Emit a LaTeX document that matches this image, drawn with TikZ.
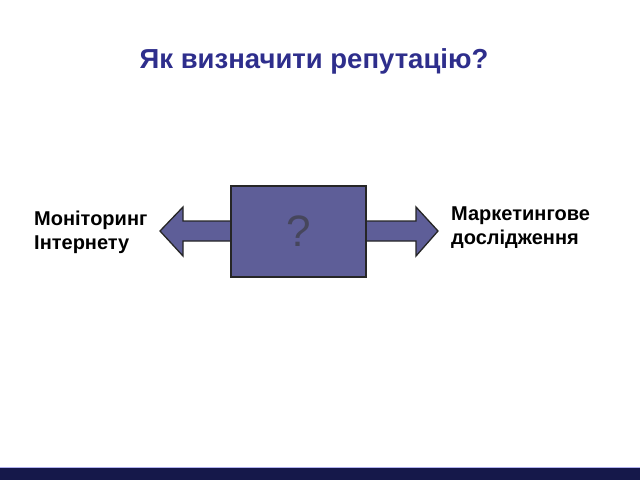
\documentclass[tikz,border=0pt]{standalone}
\usepackage{fontspec}
\setmainfont{Liberation Sans}
\definecolor{titleblue}{HTML}{2E2E8C}
\definecolor{boxfill}{HTML}{5E5E98}
\definecolor{barnavy}{HTML}{15184A}
\definecolor{qgray}{HTML}{46465C}
\begin{document}
\begin{tikzpicture}[x=1pt,y=-1pt,
  lbl/.style={font=\bfseries\fontsize{20}{24}\selectfont, align=left, anchor=west, inner sep=0pt, text=black},
  shapefill/.style={fill=boxfill, draw=black!85, line width=1.3pt, line join=miter}]
\useasboundingbox (0,0) rectangle (640,480);
\fill[white] (0,0) rectangle (640,480);
% bottom bar
\fill[barnavy] (0,468) rectangle (640,480);
\draw[color=black!20!blue!30, line width=0.6pt] (0,467.5) -- (640,467.5);
% title
\node[font=\bfseries\fontsize{27.5}{30}\selectfont, text=titleblue, anchor=base, inner sep=0pt] (title) at (314,68) {Як визначити репутацію?};
% double arrow
\coordinate (ltip) at (160,231);
\coordinate (rtip) at (438,231);
\draw[shapefill] (ltip) -- (183,207) -- (183,221) -- (416,221) -- (416,207) -- (rtip) -- (416,256) -- (416,241) -- (183,241) -- (183,256) -- cycle;
% box
\node[shapefill, draw, minimum width=135pt, minimum height=91pt, inner sep=0pt] (box) at (298.5,231.5) {};
\node[text=qgray, font=\fontsize{44}{44}\selectfont, inner sep=0pt] (q) at (box.center) {?};
% labels
\node[lbl] (left) at (34,232) {Моніторинг\\Інтернету};
\node[lbl] (right) at (451,228) {Маркетингове\\дослідження};
\end{tikzpicture}
\end{document}
